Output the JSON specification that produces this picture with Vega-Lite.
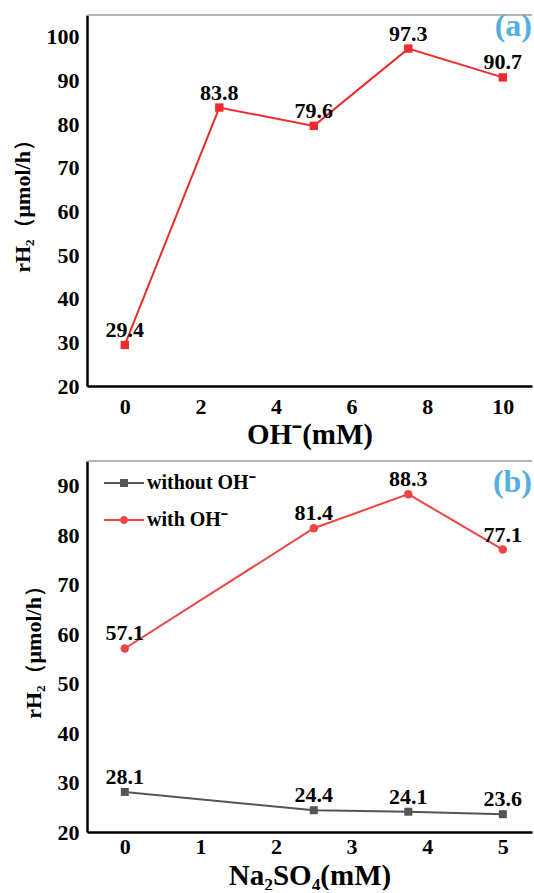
{
  "$schema": "https://vega.github.io/schema/vega-lite/v6.json",
  "background": "white",
  "padding": {"left": 11, "top": 10, "right": 0, "bottom": 0},
  "bounds": "flush",
  "spacing": 75,
  "config": {
    "view": {"stroke": null},
    "font": "Liberation Serif",
    "axis": {
      "grid": false,
      "domainColor": "black",
      "domainWidth": 2.5,
      "tickColor": "black",
      "tickWidth": 2,
      "tickSize": 0,
      "labelFont": "Liberation Serif",
      "labelFontWeight": "bold",
      "labelFontSize": 22,
      "labelColor": "black",
      "labelFlush": false,
      "labelOverlap": false,
      "titleFont": "Liberation Serif",
      "titleFontWeight": "bold",
      "titleColor": "black"
    },
    "title": {"font": "Liberation Serif", "fontWeight": "bold", "fontSize": 32, "color": "#55aee0", "anchor": "end", "frame": "group", "baseline": "alphabetic"},
    "text": {"font": "Liberation Serif", "fontWeight": "bold", "fontSize": 22, "color": "black"}
  },
  "vconcat": [
    {
      "width": 445,
      "height": 371,
      "title": {"text": "(a)", "offset": -29},
      "data": {"values": [
        {"oh": 0, "r": 29.4},
        {"oh": 2.5, "r": 83.8},
        {"oh": 5, "r": 79.6},
        {"oh": 7.5, "r": 97.3},
        {"oh": 10, "r": 90.7}
      ]},
      "encoding": {
        "x": {"field": "oh", "type": "quantitative",
          "scale": {"domain": [-1, 10.772], "nice": false, "zero": false},
          "axis": {"values": [0,1,2,3,4,5,6,7,8,9,10], "format": "d",
            "labelExpr": "datum.value % 2 == 0 ? datum.label : ''",
            "labelPadding": 10, "title": "OH⁻(mM)", "titleFontSize": 29, "titlePadding": 3,
            "encode": {"ticks": {"update": {"y2": {"signal": "datum.value % 2 == 0 ? -6 : -3"}}}}}},
        "y": {"field": "r", "type": "quantitative",
          "scale": {"domain": [20, 105], "nice": false, "zero": false},
          "axis": {"values": [20,25,30,35,40,45,50,55,60,65,70,75,80,85,90,95,100], "format": "d",
            "labelExpr": "datum.value % 10 == 0 ? datum.label : ''",
            "labelPadding": 8, "title": "rH₂（μmol/h）", "titleFontSize": 22, "titlePadding": 12,
            "encode": {"ticks": {"update": {"x2": {"signal": "datum.value % 10 == 0 ? 6 : 3"}}}}}}
      },
      "layer": [
        {"mark": {"type": "rule", "color": "#b5b5b5", "strokeWidth": 2},
         "encoding": {"y": {"datum": 105}, "x": null}},
        {"mark": {"type": "line", "color": "#ee2a2a", "strokeWidth": 2}},
        {"mark": {"type": "point", "shape": "square", "filled": true, "size": 70, "color": "#ee2a2a", "opacity": 1}},
        {"mark": {"type": "text", "dy": -8, "baseline": "alphabetic"},
         "encoding": {"text": {"field": "r", "type": "quantitative", "format": ".1f"}}}
      ]
    },
    {
      "width": 445,
      "height": 371,
      "title": {"text": "(b)", "offset": -39},
      "data": {"values": [
        {"na": 0, "r": 28.1, "s": "without OH⁻"},
        {"na": 2.5, "r": 24.4, "s": "without OH⁻"},
        {"na": 3.75, "r": 24.1, "s": "without OH⁻"},
        {"na": 5, "r": 23.6, "s": "without OH⁻"},
        {"na": 0, "r": 57.1, "s": "with OH⁻"},
        {"na": 2.5, "r": 81.4, "s": "with OH⁻"},
        {"na": 3.75, "r": 88.3, "s": "with OH⁻"},
        {"na": 5, "r": 77.1, "s": "with OH⁻"}
      ]},
      "encoding": {
        "x": {"field": "na", "type": "quantitative",
          "scale": {"domain": [-0.5, 5.386], "nice": false, "zero": false},
          "axis": {"values": [0,0.5,1,1.5,2,2.5,3,3.5,4,4.5,5], "format": "d",
            "labelExpr": "datum.value % 1 == 0 ? datum.label : ''",
            "labelPadding": 4, "title": "Na₂SO₄(mM)", "titleFontSize": 29, "titlePadding": 4,
            "encode": {"ticks": {"update": {"y2": {"signal": "datum.value % 1 == 0 ? -6 : -3"}}}}}},
        "y": {"field": "r", "type": "quantitative",
          "scale": {"domain": [20, 95], "nice": false, "zero": false},
          "axis": {"values": [20,25,30,35,40,45,50,55,60,65,70,75,80,85,90], "format": "d",
            "labelExpr": "datum.value % 10 == 0 ? datum.label : ''",
            "labelPadding": 8, "title": "rH₂（μmol/h）", "titleFontSize": 22, "titlePadding": 12,
            "encode": {"ticks": {"update": {"x2": {"signal": "datum.value % 10 == 0 ? 6 : 3"}}}}}}
      },
      "layer": [
        {"mark": {"type": "rule", "color": "#b5b5b5", "strokeWidth": 2},
         "encoding": {"y": {"datum": 95}, "x": null}},
        {"transform": [{"filter": "datum.s == 'without OH⁻'"}],
         "mark": {"type": "line", "strokeWidth": 2, "color": "#555555"}},
        {"transform": [{"filter": "datum.s == 'with OH⁻'"}],
         "mark": {"type": "line", "strokeWidth": 2, "color": "#ef4444"}},
        {"transform": [{"filter": "datum.s == 'without OH⁻'"}],
         "mark": {"type": "point", "shape": "square", "filled": true, "size": 64, "color": "#555555", "opacity": 1}},
        {"transform": [{"filter": "datum.s == 'with OH⁻'"}],
         "mark": {"type": "point", "shape": "circle", "filled": true, "size": 72, "color": "#ef4444", "opacity": 1}},
        {"mark": {"type": "point", "filled": true, "opacity": 0},
         "encoding": {
           "color": {"field": "s", "type": "nominal",
             "scale": {"domain": ["without OH⁻", "with OH⁻"], "range": ["#555555", "#ef4444"]},
             "legend": {"orient": "none", "legendX": 16, "legendY": 457, "title": null, "padding": 0,
               "labelFont": "Liberation Serif", "labelFontSize": 20, "labelFontWeight": "bold", "labelColor": "black",
               "symbolSize": 400, "symbolOpacity": 1, "labelOffset": 22, "rowPadding": 16}},
           "shape": {"field": "s", "type": "nominal",
             "scale": {"domain": ["without OH⁻", "with OH⁻"],
               "range": ["M-1,-0.1H3V0.1H-1ZM0.6,-0.4H1.4V0.4H0.6Z", "M-1,-0.1H3V0.1H-1ZM0.6,0A0.4,0.4 0 1,1 1.4,0A0.4,0.4 0 1,1 0.6,0Z"]},
             "legend": {"orient": "none", "legendX": 16, "legendY": 457, "title": null, "padding": 0,
               "labelFont": "Liberation Serif", "labelFontSize": 20, "labelFontWeight": "bold", "labelColor": "black",
               "symbolSize": 400, "symbolOpacity": 1, "labelOffset": 22, "rowPadding": 16}}}},
        {"mark": {"type": "text", "dy": -8, "baseline": "alphabetic"},
         "encoding": {"text": {"field": "r", "type": "quantitative", "format": ".1f"}, "detail": {"field": "s"}}}
      ]
    }
  ]
}
